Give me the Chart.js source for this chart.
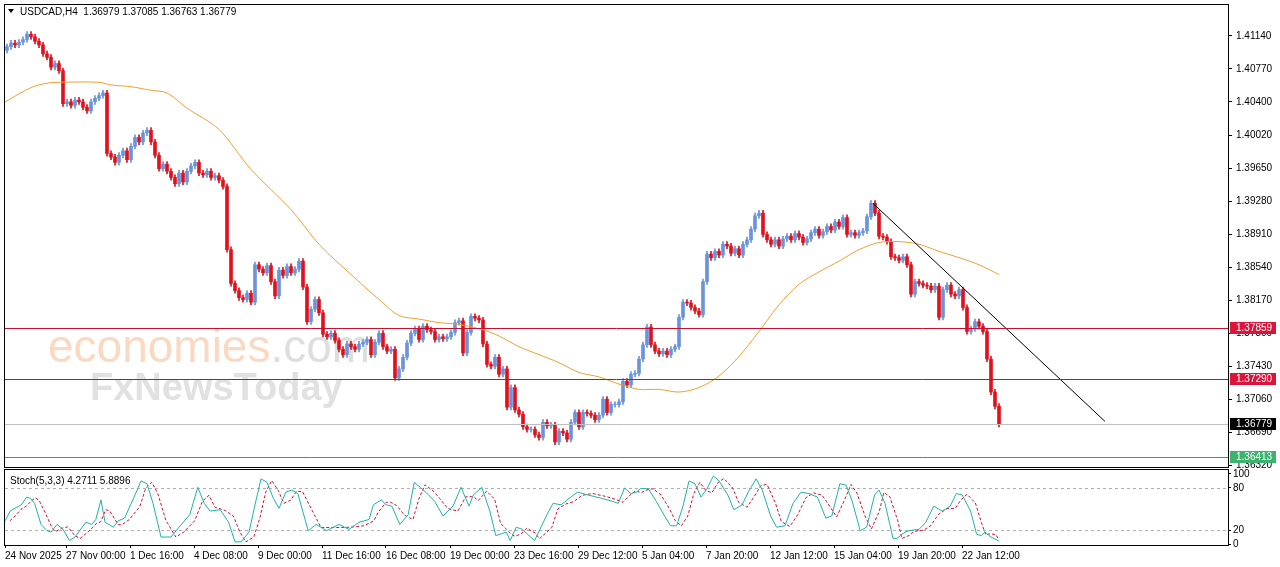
<!DOCTYPE html>
<html>
<head>
<meta charset="utf-8">
<script src="https://cdn.jsdelivr.net/npm/chart.js@4.4.1/dist/chart.umd.min.js"></script>
<style>
  body { margin: 0; background: #fff; }
  #wrap { position: relative; width: 1280px; height: 567px; overflow: hidden; }
  .box { position: absolute; left: 0; width: 1280px; }
  #boxMain { top: 0; height: 468px; }
  #boxStoch { top: 468px; height: 99px; }
</style>
</head>
<body>
<div id="wrap">
  <div class="box" id="boxMain"><canvas id="mainChart"></canvas></div>
  <div class="box" id="boxStoch"><canvas id="stochChart"></canvas></div>
</div>
<script>
// ---- datos (USDCAD H4) ----
const firstOpen = 1.4098;
const closes = [
  1.4102,1.4106,1.4104,1.4107,1.4110,1.4116,1.4113,1.4108,1.4104,1.4094,
  1.4090,1.4079,1.4083,1.4075,1.4038,1.4040,1.4036,1.4042,1.4040,1.4034,
  1.4030,1.4040,1.4044,1.4047,1.4050,1.3982,1.3978,1.3972,1.3980,1.3985,
  1.3975,1.3990,1.4000,1.3995,1.4005,1.4008,1.3995,1.3980,1.3965,1.3970,
  1.3962,1.3955,1.3948,1.3960,1.3950,1.3962,1.3968,1.3972,1.3960,1.3958,
  1.3962,1.3955,1.3957,1.3952,1.3945,1.3874,1.3836,1.3828,1.3820,1.3818,
  1.3825,1.3815,1.3857,1.3852,1.3848,1.3856,1.3838,1.3822,1.3851,1.3845,
  1.3855,1.3848,1.3852,1.3861,1.3832,1.3793,1.3807,1.3818,1.3803,1.3779,
  1.3776,1.3780,1.3772,1.3762,1.3756,1.3768,1.3765,1.3762,1.3768,1.3770,
  1.3773,1.3756,1.3770,1.3780,1.3765,1.3760,1.3762,1.3730,1.3740,1.3753,
  1.3769,1.3780,1.3785,1.3773,1.3788,1.3784,1.3782,1.3773,1.3776,1.3774,
  1.3776,1.3781,1.3792,1.3794,1.3758,1.3781,1.3799,1.3797,1.3795,1.3768,
  1.3745,1.3743,1.3753,1.3734,1.3740,1.3697,1.3719,1.3694,1.3689,1.3675,
  1.3672,1.3672,1.3666,1.3663,1.3680,1.3676,1.3677,1.3658,1.3670,1.3668,
  1.3661,1.3680,1.3691,1.3675,1.3691,1.3690,1.3688,1.3683,1.3688,1.3706,
  1.3691,1.3700,1.3700,1.3703,1.3726,1.3722,1.3734,1.3735,1.3751,1.3767,
  1.3787,1.3767,1.3760,1.3757,1.3760,1.3756,1.3762,1.3765,1.3798,1.3815,
  1.3814,1.3809,1.3805,1.3801,1.3838,1.3869,1.3865,1.3872,1.3868,1.3880,
  1.3878,1.3870,1.3875,1.3868,1.3880,1.3885,1.3897,1.3912,1.3915,1.3891,
  1.3885,1.3880,1.3885,1.3878,1.3886,1.3889,1.3885,1.3892,1.3888,1.3882,
  1.3886,1.3893,1.3897,1.3890,1.3894,1.3900,1.3896,1.3905,1.3900,1.3910,
  1.3891,1.3893,1.3890,1.3893,1.3895,1.3911,1.3926,1.3915,1.3889,1.3888,
  1.3883,1.3866,1.3865,1.3862,1.3866,1.3857,1.3824,1.3838,1.3836,1.3834,
  1.3833,1.3829,1.3833,1.3798,1.3829,1.3834,1.3824,1.3822,1.3829,1.3809,
  1.3782,1.3785,1.3793,1.3788,1.3782,1.3751,1.3714,1.3698,1.36779
];
const wickSize = 0.0003;

// media movil (naranja)
const maIdx = [-0.5,6,10,13,23,26,31,36,40,45,53,61,71,78,86,93,98,103,108,113,119,123,128,133,138,143,148,153,158,163,168,173,178,183,188,193,198,203,208,213,218,223,228,233,238,243,248];
const maVal = [1.4040,1.4056,1.4061,1.4062,1.4062,1.4059,1.4057,1.4053,1.4050,1.4033,1.4009,1.3964,1.3919,1.3880,1.3846,1.3818,1.3800,1.3796,1.3792,1.3790,1.3784,1.3777,1.3765,1.3756,1.3747,1.3736,1.3731,1.3723,1.3717,1.3717,1.3714,1.3719,1.3732,1.3754,1.3782,1.3812,1.3835,1.3849,1.3861,1.3874,1.3882,1.3883,1.3880,1.3872,1.3865,1.3857,1.3846];

// linea de tendencia
const trendIdx = [216.5, 274.5];
const trendVal = [1.3926, 1.3681];

// lineas horizontales
const levels = [
  { v: 1.37859, color: "#c8102e", tag: "#dc143c" },
  { v: 1.37290, color: "#c8102e", tag: "#dc143c" },
  { v: 1.36779, color: "#c0c0c0", tag: "#000000" },
  { v: 1.36413, color: "#3c9e6e", tag: "#3cb371" }
];

const priceTicks = [1.36320,1.36690,1.37060,1.37430,1.37800,1.38170,1.38540,1.38910,1.39280,1.39650,1.40020,1.40400,1.40770,1.41140];

// estocastico %K
const kIdx = [-0.5,0.8,2.3,3.6,4.9,5.9,6.9,8.5,10,11,12.5,14,15.6,17,19.7,21.2,22.2,23.5,24.5,26.6,27.8,29.4,32,33.5,35,36.5,38.5,41,43,45.7,47.7,49.3,50.8,53.3,55.4,57,58.5,60.5,62,63.5,65,66.6,68,69.7,71.2,72.7,75.3,77.3,79.9,83,85.5,88,90.5,91.6,93.6,94.7,96.2,98.2,100.3,101.8,103.3,105.4,106.9,109,111.5,113.5,115.5,116.6,118.7,120.7,122.2,124.8,125.8,127.3,128.8,130.9,131.9,135,136.5,138.5,140.5,142.6,145.2,148.8,151.3,152.8,154.4,155.9,157.4,158.3,160.3,162.3,164.4,165.9,167.4,169,170.5,172,173.5,175,176.6,178,180.2,181.7,183.8,185.3,187.3,188.8,190.9,192.4,194.5,196.5,198.5,200.5,202.6,204.7,206.2,208.2,209.8,211.3,213.3,214.9,216.9,218,219.5,221.5,222.5,224.5,225.5,228,229.7,231.7,233.8,235.8,237.3,238.8,240.9,242.4,243.5,244.5,246,248];
const kVal = [33,47,52,56,67,65,58,28,19,17,28,21,5,10,31,28,35,63,31,24,33,37,70,90,86,58,10,10,24,42,81,58,47,49,31,3,3,17,56,93,88,65,51,74,77,72,19,28,19,28,21,31,35,56,63,56,54,28,42,88,81,70,61,40,54,81,54,70,81,47,12,17,5,24,21,10,5,42,58,56,65,74,70,65,61,58,80,72,74,79,79,61,40,26,26,54,90,86,67,79,97,90,70,49,56,74,93,77,40,24,26,58,74,72,67,37,40,86,84,61,19,24,70,77,58,8,8,17,19,21,31,54,47,54,72,70,47,14,12,17,10,4.27];
const stochTicks = [0, 20, 80, 100];

// etiquetas del eje de tiempo
const dateLabels = ["24 Nov 2025","27 Nov 00:00","1 Dec 16:00","4 Dec 08:00","9 Dec 00:00","11 Dec 16:00","16 Dec 08:00","19 Dec 00:00","23 Dec 16:00","29 Dec 12:00","5 Jan 04:00","7 Jan 20:00","12 Jan 12:00","15 Jan 04:00","19 Jan 20:00","22 Jan 12:00"];
const datePos = [-0.5,14.75,30.75,46.75,62.75,78.75,94.75,110.75,126.75,142.75,158.75,174.75,190.75,206.75,222.75,238.75];

const X_MIN = -0.5, X_MAX = 305.25;
const FONT = "Liberation Sans";

// ---- construir velas ----
const wicks = [], bodies = [], candleColors = [];
closes.forEach((c, i) => {
  const o = i === 0 ? firstOpen : closes[i - 1];
  const top = Math.max(o, c), bot = Math.min(o, c);
  wicks.push({ x: i, y: [bot - wickSize, top + wickSize] });
  bodies.push({ x: i, y: [bot, Math.max(top, bot + 0.00004)] });
  candleColors.push(c >= o ? "#6a93db" : "#e3101c");
});
const maData = maIdx.map((x, i) => ({ x, y: maVal[i] }));
const trendData = trendIdx.map((x, i) => ({ x, y: trendVal[i] }));
const kData = kIdx.map((x, i) => ({ x, y: kVal[i] }));
// %D: promedio del %K, desplazado
const dData = kIdx.map((x, i) => ({ x: x + 1.2, y: i === 0 ? kVal[0] : (kVal[i] + kVal[i - 1]) / 2 }));
dData[dData.length - 1] = { x: 248, y: 5.89 };

const framePlugin = {
  id: "frame",
  afterDraw(chart) {
    const { ctx, chartArea: a } = chart;
    ctx.save();
    ctx.strokeStyle = "#000";
    ctx.lineWidth = 1;
    ctx.strokeRect(a.left - 0.5, a.top - 0.5, a.right - a.left + 1, a.bottom - a.top + 1);
    ctx.restore();
  }
};

const mainPlugin = {
  id: "mainExtras",
  beforeDatasetsDraw(chart) {
    const { ctx } = chart;
    ctx.save();
    ctx.font = "46px " + FONT;
    ctx.fillStyle = "rgba(244,170,120,0.45)";
    ctx.fillText("economies", 48, 362);
    const w = ctx.measureText("economies").width;
    ctx.fillStyle = "rgba(190,190,190,0.5)";
    ctx.fillText(".com", 48 + w, 362);
    ctx.font = "bold 38px " + FONT;
    ctx.fillStyle = "rgba(205,205,205,0.6)";
    ctx.fillText("FxNewsToday", 90, 400);
    ctx.restore();
  },
  afterDatasetsDraw(chart) {
    const { ctx, chartArea: a, scales: { y } } = chart;
    ctx.save();
    ctx.lineWidth = 1;
    levels.forEach(l => {
      const py = Math.round(y.getPixelForValue(l.v)) + 0.5;
      ctx.strokeStyle = l.color;
      ctx.beginPath(); ctx.moveTo(a.left, py); ctx.lineTo(a.right, py); ctx.stroke();
    });
    ctx.restore();
  },
  afterDraw(chart) {
    const { ctx, chartArea: a, scales: { y } } = chart;
    ctx.save();
    ctx.font = "10px " + FONT;
    ctx.textBaseline = "middle";
    levels.forEach(l => {
      const py = Math.round(y.getPixelForValue(l.v));
      ctx.fillStyle = l.tag;
      ctx.fillRect(a.right + 2, py - 6, 46, 12);
      ctx.fillStyle = "#fff";
      ctx.fillText(l.v.toFixed(5), a.right + 8, py + 0.5);
    });
    ctx.fillStyle = "#000";
    ctx.beginPath(); ctx.moveTo(8, 9); ctx.lineTo(14, 9); ctx.lineTo(11, 13); ctx.closePath(); ctx.fill();
    ctx.fillText("USDCAD,H4  1.36979 1.37085 1.36763 1.36779", 20, 12);
    ctx.restore();
  }
};

const stochPlugin = {
  id: "stochExtras",
  beforeDatasetsDraw(chart) {
    const { ctx, chartArea: a, scales: { y } } = chart;
    ctx.save();
    ctx.strokeStyle = "#b0b0b0";
    ctx.setLineDash([3, 3]);
    [20, 80].forEach(v => {
      const py = Math.round(y.getPixelForValue(v)) + 0.5;
      ctx.beginPath(); ctx.moveTo(a.left, py); ctx.lineTo(a.right, py); ctx.stroke();
    });
    ctx.restore();
  },
  afterDraw(chart) {
    const { ctx } = chart;
    ctx.save();
    ctx.font = "10px " + FONT;
    ctx.fillStyle = "#000";
    ctx.fillText("Stoch(5,3,3) 4.2711 5.8896", 10, 16);
    ctx.restore();
  }
};

Chart.defaults.font.family = FONT;
Chart.defaults.font.size = 10;
Chart.defaults.color = "#000";

const noPad = s => { s.paddingTop = 0; s.paddingBottom = 0; };

new Chart(document.getElementById("mainChart"), {
  type: "bar",
  data: {
    datasets: [
      { data: wicks, backgroundColor: candleColors, barThickness: 1, grouped: false, order: 3 },
      { data: bodies, backgroundColor: candleColors, barThickness: 3, grouped: false, order: 2 },
      { type: "line", data: maData, borderColor: "#f0a030", borderWidth: 1, pointRadius: 0, tension: 0.3, order: 1 },
      { type: "line", data: trendData, borderColor: "#000", borderWidth: 1, pointRadius: 0, order: 0 }
    ]
  },
  options: {
    responsive: true, maintainAspectRatio: false, animation: false, devicePixelRatio: 1,
    layout: { padding: { left: 5, top: 5, bottom: 1, right: 0 } },
    plugins: { legend: { display: false }, tooltip: { enabled: false } },
    scales: {
      x: { type: "linear", min: X_MIN, max: X_MAX, offset: false, display: false },
      y: {
        position: "right", min: 1.36298, max: 1.41488,
        afterFit: s => { s.width = 52; noPad(s); },
        afterBuildTicks: s => { s.ticks = priceTicks.map(v => ({ value: v })); },
        ticks: { callback: v => Number(v).toFixed(5), padding: 4, autoSkip: false },
        grid: { drawOnChartArea: false, tickLength: 4, color: "#000" },
        border: { color: "#000" }
      }
    }
  },
  plugins: [mainPlugin, framePlugin]
});

new Chart(document.getElementById("stochChart"), {
  type: "line",
  data: {
    datasets: [
      { data: kData, borderColor: "#20b2aa", borderWidth: 1, pointRadius: 0 },
      { data: dData, borderColor: "#d01030", borderWidth: 1, borderDash: [3, 2], pointRadius: 0 }
    ]
  },
  options: {
    responsive: true, maintainAspectRatio: false, animation: false, devicePixelRatio: 1,
    layout: { padding: { left: 5, top: 2, bottom: 0, right: 0 } },
    plugins: { legend: { display: false }, tooltip: { enabled: false } },
    scales: {
      x: {
        type: "linear", min: X_MIN, max: X_MAX,
        afterFit: s => { s.height = 22; s.paddingLeft = 0; s.paddingRight = 0; },
        afterBuildTicks: s => { s.ticks = datePos.map(v => ({ value: v })); },
        ticks: {
          autoSkip: false, maxRotation: 0, align: "start", padding: 2,
          callback: (v, i) => dateLabels[i]
        },
        grid: { drawOnChartArea: false, tickLength: 3, color: "#000" },
        border: { color: "#000" }
      },
      y: {
        position: "right", min: -1.4, max: 105.6,
        afterFit: s => { s.width = 52; noPad(s); },
        afterBuildTicks: s => { s.ticks = stochTicks.map(v => ({ value: v })); },
        ticks: { autoSkip: false, padding: 2 },
        grid: { drawOnChartArea: false, tickLength: 3, color: "#000" },
        border: { color: "#000" }
      }
    }
  },
  plugins: [stochPlugin, framePlugin]
});
</script>
</body>
</html>
